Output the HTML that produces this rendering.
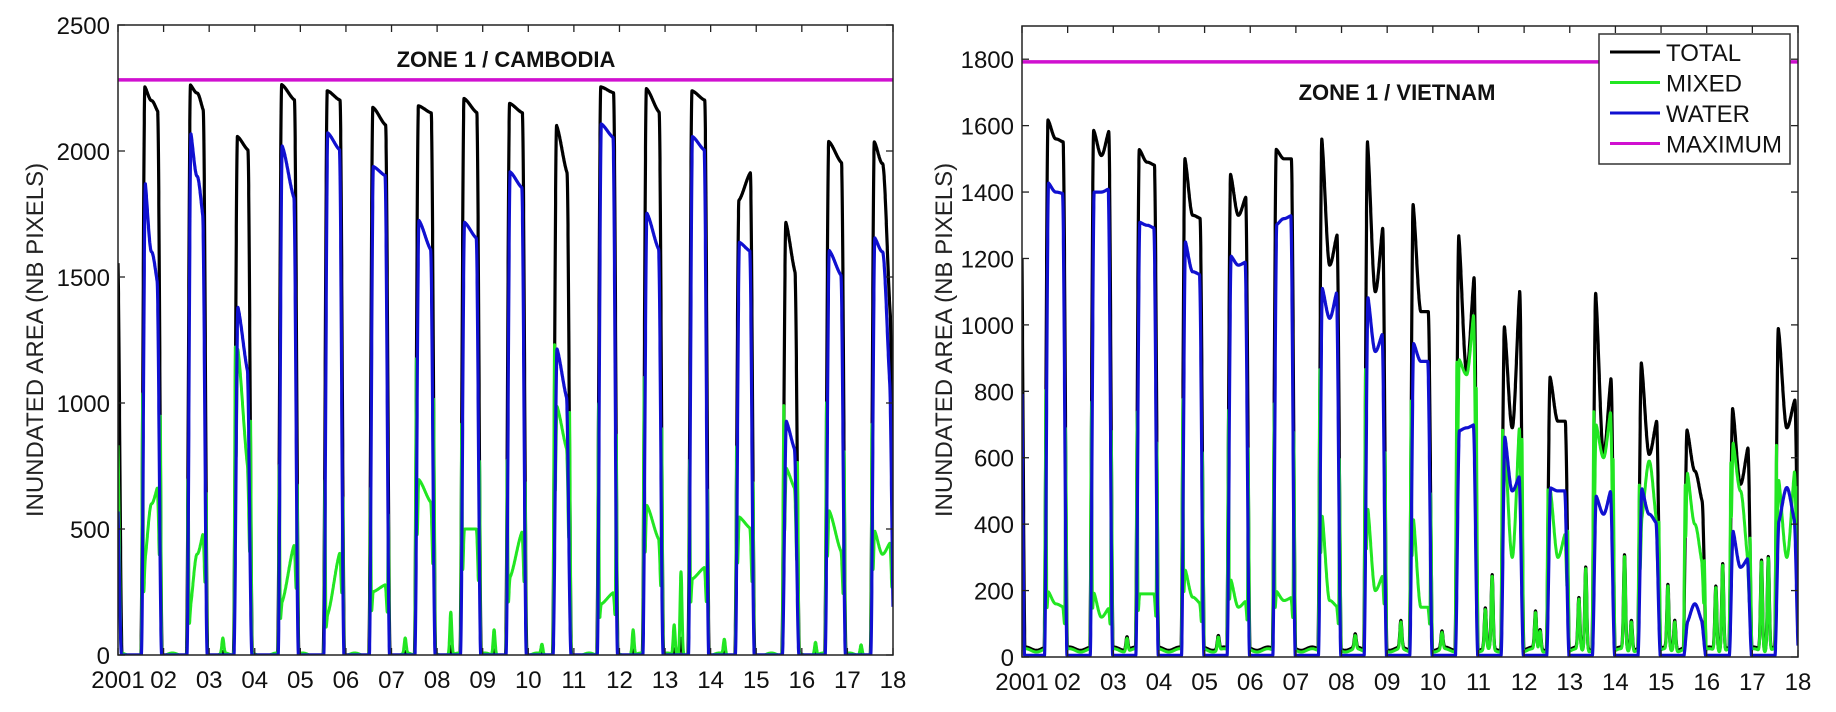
<!DOCTYPE html>
<html><head><meta charset="utf-8"><style>
html,body{margin:0;padding:0;background:#fff;}
svg{display:block;font-family:"Liberation Sans",Arial,sans-serif;}
</style></head><body>
<svg id="s" width="1836" height="712" xmlns="http://www.w3.org/2000/svg"></svg>
<script>
const S=document.getElementById('s');
let out='';
const L={x0:118,x1:893,y0:655,y1:25,ymax:2500,step:500,maxv:2282,title:'ZONE 1 / CAMBODIA',tx:506,ty:67,lx:35};
const R={x0:1022,x1:1798,y0:657,y1:26,ymax:1900,step:200,maxv:1792,title:'ZONE 1 / VIETNAM',tx:1397,ty:100,lx:944};
const Lp=[
[2000.5,2001.09,[1600,1600],[650,650],[950,950],0],
[2001.5,2001.97,[2260,2200,2150],[1920,1600,1450],[350,600,680],1000],
[2002.5,2002.97,[2265,2230,2150],[2100,1900,1700],[170,400,500],650],
[2003.53,2003.95,[2060,2000],[1400,1100],[1250,700],1000],
[2004.5,2004.97,[2265,2200],[2030,1800],[200,450],700],
[2005.5,2005.97,[2240,2200],[2075,2000],[150,420],650],
[2006.5,2006.97,[2175,2100],[1940,1900],[250,280],600],
[2007.5,2007.97,[2180,2150],[1730,1600],[700,600],1200],
[2008.5,2008.97,[2210,2150],[1720,1650],[500,500],800],
[2009.5,2009.97,[2190,2150],[1920,1850],[300,500],700],
[2010.53,2010.95,[2110,1900],[1230,1000],[1000,800],1100],
[2011.5,2011.97,[2255,2230],[2110,2050],[200,250],1000],
[2012.5,2012.97,[2250,2150],[1760,1600],[600,450],1000],
[2013.5,2013.97,[2240,2200],[2060,2000],[300,350],700],
[2014.53,2014.97,[1800,1920],[1640,1600],[550,500],700],
[2015.56,2015.95,[1730,1500],[940,800],[750,650],900],
[2016.5,2016.97,[2040,1950],[1610,1500],[580,400],900],
[2017.5,2018.04,[2040,1950,1300],[1660,1600,1000],[500,400,450],800]];
const Rp=[
[2000.5,2001.07,[1530],[1280],[1000],0],
[2001.48,2002.0,[1620,1560,1550],[1430,1400,1395],[200,160,150],1000],
[2002.48,2003.0,[1590,1510,1590],[1400,1400,1410],[200,120,150],900],
[2003.48,2004.0,[1530,1490,1480],[1310,1300,1290],[190,190,190],850],
[2004.48,2005.0,[1510,1330,1320],[1260,1160,1150],[270,180,160],1050],
[2005.48,2006.0,[1460,1330,1390],[1210,1180,1190],[240,150,170],900],
[2006.48,2007.0,[1530,1500,1500],[1300,1320,1330],[200,170,180],1050],
[2007.48,2008.0,[1580,1180,1280],[1120,1020,1110],[450,170,150],1000],
[2008.48,2009.0,[1575,1100,1310],[1100,920,980],[470,200,250],950],
[2009.48,2010.0,[1380,1040,1040],[950,890,890],[440,150,150],900],
[2010.48,2011.0,[1290,860,1170],[680,690,700],[900,850,1060],900],
[2011.48,2012.0,[1010,690,1140],[680,500,550],[680,300,750],700],
[2012.48,2013.0,[850,710,710],[510,500,500],[520,300,380],400],
[2013.48,2014.0,[1120,610,860],[490,430,510],[710,600,760],700],
[2014.48,2015.0,[900,610,720],[515,430,400],[400,590,390],500],
[2015.48,2016.0,[690,560,460],[100,160,100],[570,400,270],500],
[2016.48,2017.0,[760,520,640],[390,270,300],[660,500,270],600],
[2017.48,2018.03,[1000,690,780],[400,510,400],[550,300,590],700]];
const RS=[[2009.3,80],[2010.2,50],[2011.15,120],[2011.3,220],[2012.25,110],[2012.35,60],[2013.2,150],[2013.35,250],[2014.2,280],[2014.35,90],[2015.15,190],[2015.3,90],[2016.2,190],[2016.35,260],[2017.2,270],[2017.35,280],[2003.3,40],[2005.3,40],[2008.3,40]];
const LS=[[2007.3,60],[2008.3,170],[2009.25,100],[2010.3,40],[2012.3,100],[2013.2,120],[2013.35,330],[2014.3,60],[2016.3,50],[2017.3,40],[2003.3,60]];
function ss(x){x=Math.max(0,Math.min(1,x));return x*x*(3-2*x);}
function interp(k,u){if(k.length==1)return k[0];u=Math.max(0,Math.min(1,(u-0.12)/0.76));let p=u*(k.length-1),i=Math.min(Math.floor(p),k.length-2),f=p-i;f=f*f*(3-2*f);return k[i]*(1-f)+k[i+1]*f;}
function series(P,isR){
 const T=[],W=[],M=[];
 const SP=isR?RS:LS;
 for(let t=2001;t<=2018.0001;t+=0.002){
  let dryM,dryW;
  let spk=0;for(const q of SP)spk+=q[1]*Math.exp(-(((t-q[0])/0.03)**2));
  if(isR){dryM=20+5*Math.sin(t*13)+spk;dryW=5;}
  else{dryM=Math.max(0,8*Math.sin(t*11))+spk;dryW=0;}
  let tt=isR?dryM+dryW:dryM*0.2,ww=dryW,mm=dryM;
  for(const p of P){const [s,e,tk,wk,mk,E]=p;
   if(t<s-0.05||t>e+0.05)continue;
   const u=(t-s)/(e-s);
   const env=ss((t-s)/0.09)*ss((e-t)/0.1);
   const envW=ss((t-s-0.012)/0.09)*ss((e-t-0.012)/0.1);
   const tv=interp(tk,u)*env,wv=interp(wk,u)*envW;
   const sp=E*(Math.exp(-(((t-s-0.04)/0.015)**2))+0.8*Math.exp(-(((e-t-0.04)/0.015)**2)));
   const mv=interp(mk,u)*envW+Math.min(sp,tv)*(1-envW)*1.3;
   tt=Math.max(tt,tv);ww=Math.max(ww,wv);mm=Math.max(mm*(1-env),mv);
  }
  T.push([t,tt]);W.push([t,ww]);M.push([t,mm]);
 }
 return {T,W,M};
}
function path(A,ax,col,w){
 let d='';const sx=(ax.x1-ax.x0)/17,sy=(ax.y0-ax.y1)/ax.ymax;
 A.forEach((p,i)=>{d+=(i?'L':'M')+(ax.x0+(p[0]-2001)*sx).toFixed(1)+' '+(ax.y0-Math.min(p[1],ax.ymax)*sy).toFixed(1);});
 return `<path d="${d}" fill="none" stroke="${col}" stroke-width="${w}" stroke-linejoin="round"/>`;
}
function axes(ax,P,isR){
 const d=series(P,isR);
 out+=`<clipPath id="c${isR?1:0}"><rect x="${ax.x0}" y="${ax.y1}" width="${ax.x1-ax.x0}" height="${ax.y0-ax.y1}"/></clipPath>`;
 out+=`<g clip-path="url(#c${isR?1:0})">`;
 out+=path(d.T,ax,'#000',3.2)+path(d.M,ax,'#22e622',3)+path(d.W,ax,'#1010d0',3.2);
 const my=ax.y0-ax.maxv*(ax.y0-ax.y1)/ax.ymax;
 out+=`<line x1="${ax.x0}" x2="${ax.x1}" y1="${my}" y2="${my}" stroke="#d010d0" stroke-width="3.5"/>`;
 out+='</g>';
 out+=`<rect x="${ax.x0}" y="${ax.y1}" width="${ax.x1-ax.x0}" height="${ax.y0-ax.y1}" fill="none" stroke="#222" stroke-width="1.5"/>`;
 const sx=(ax.x1-ax.x0)/17,sy=(ax.y0-ax.y1)/ax.ymax;
 for(let i=0;i<=17;i++){const x=ax.x0+i*sx;
  out+=`<line x1="${x}" x2="${x}" y1="${ax.y0}" y2="${ax.y0-7}" stroke="#222" stroke-width="1.3"/><line x1="${x}" x2="${x}" y1="${ax.y1}" y2="${ax.y1+7}" stroke="#222" stroke-width="1.3"/>`;
  const lab=i==0?'2001':String(i+1).padStart(2,'0');
  out+=`<text x="${x}" y="${ax.y0+33}" font-size="24" text-anchor="middle" fill="#111">${lab}</text>`;}
 for(let v=0;v<=ax.ymax;v+=ax.step){const y=ax.y0-v*sy;
  out+=`<line x1="${ax.x0}" x2="${ax.x0+7}" y1="${y}" y2="${y}" stroke="#222" stroke-width="1.3"/><line x1="${ax.x1}" x2="${ax.x1-7}" y1="${y}" y2="${y}" stroke="#222" stroke-width="1.3"/>`;
  out+=`<text x="${ax.x0-8}" y="${y+9}" font-size="24" text-anchor="end" fill="#111">${v}</text>`;}
 out+=`<text x="${ax.tx}" y="${ax.ty}" font-size="22" font-weight="bold" text-anchor="middle" fill="#111">${ax.title}</text>`;
 out+=`<text transform="translate(${ax.lx+8},340) rotate(-90)" font-size="24" text-anchor="middle" fill="#222">INUNDATED AREA (NB PIXELS)</text>`;
}
axes(L,Lp,false);axes(R,Rp,true);
out+=`<rect x="1599" y="34" width="191" height="130" fill="#fff" stroke="#333" stroke-width="1.5"/>`;
const lg=[['TOTAL','#000'],['MIXED','#22e622'],['WATER','#1010d0'],['MAXIMUM','#d010d0']];
lg.forEach((e,i)=>{const y=52+i*30.5;
 out+=`<line x1="1610" x2="1660" y1="${y}" y2="${y}" stroke="${e[1]}" stroke-width="3"/><text x="1666" y="${y+9}" font-size="24" fill="#111">${e[0]}</text>`;});
S.innerHTML=out;
</script>
</body></html>
